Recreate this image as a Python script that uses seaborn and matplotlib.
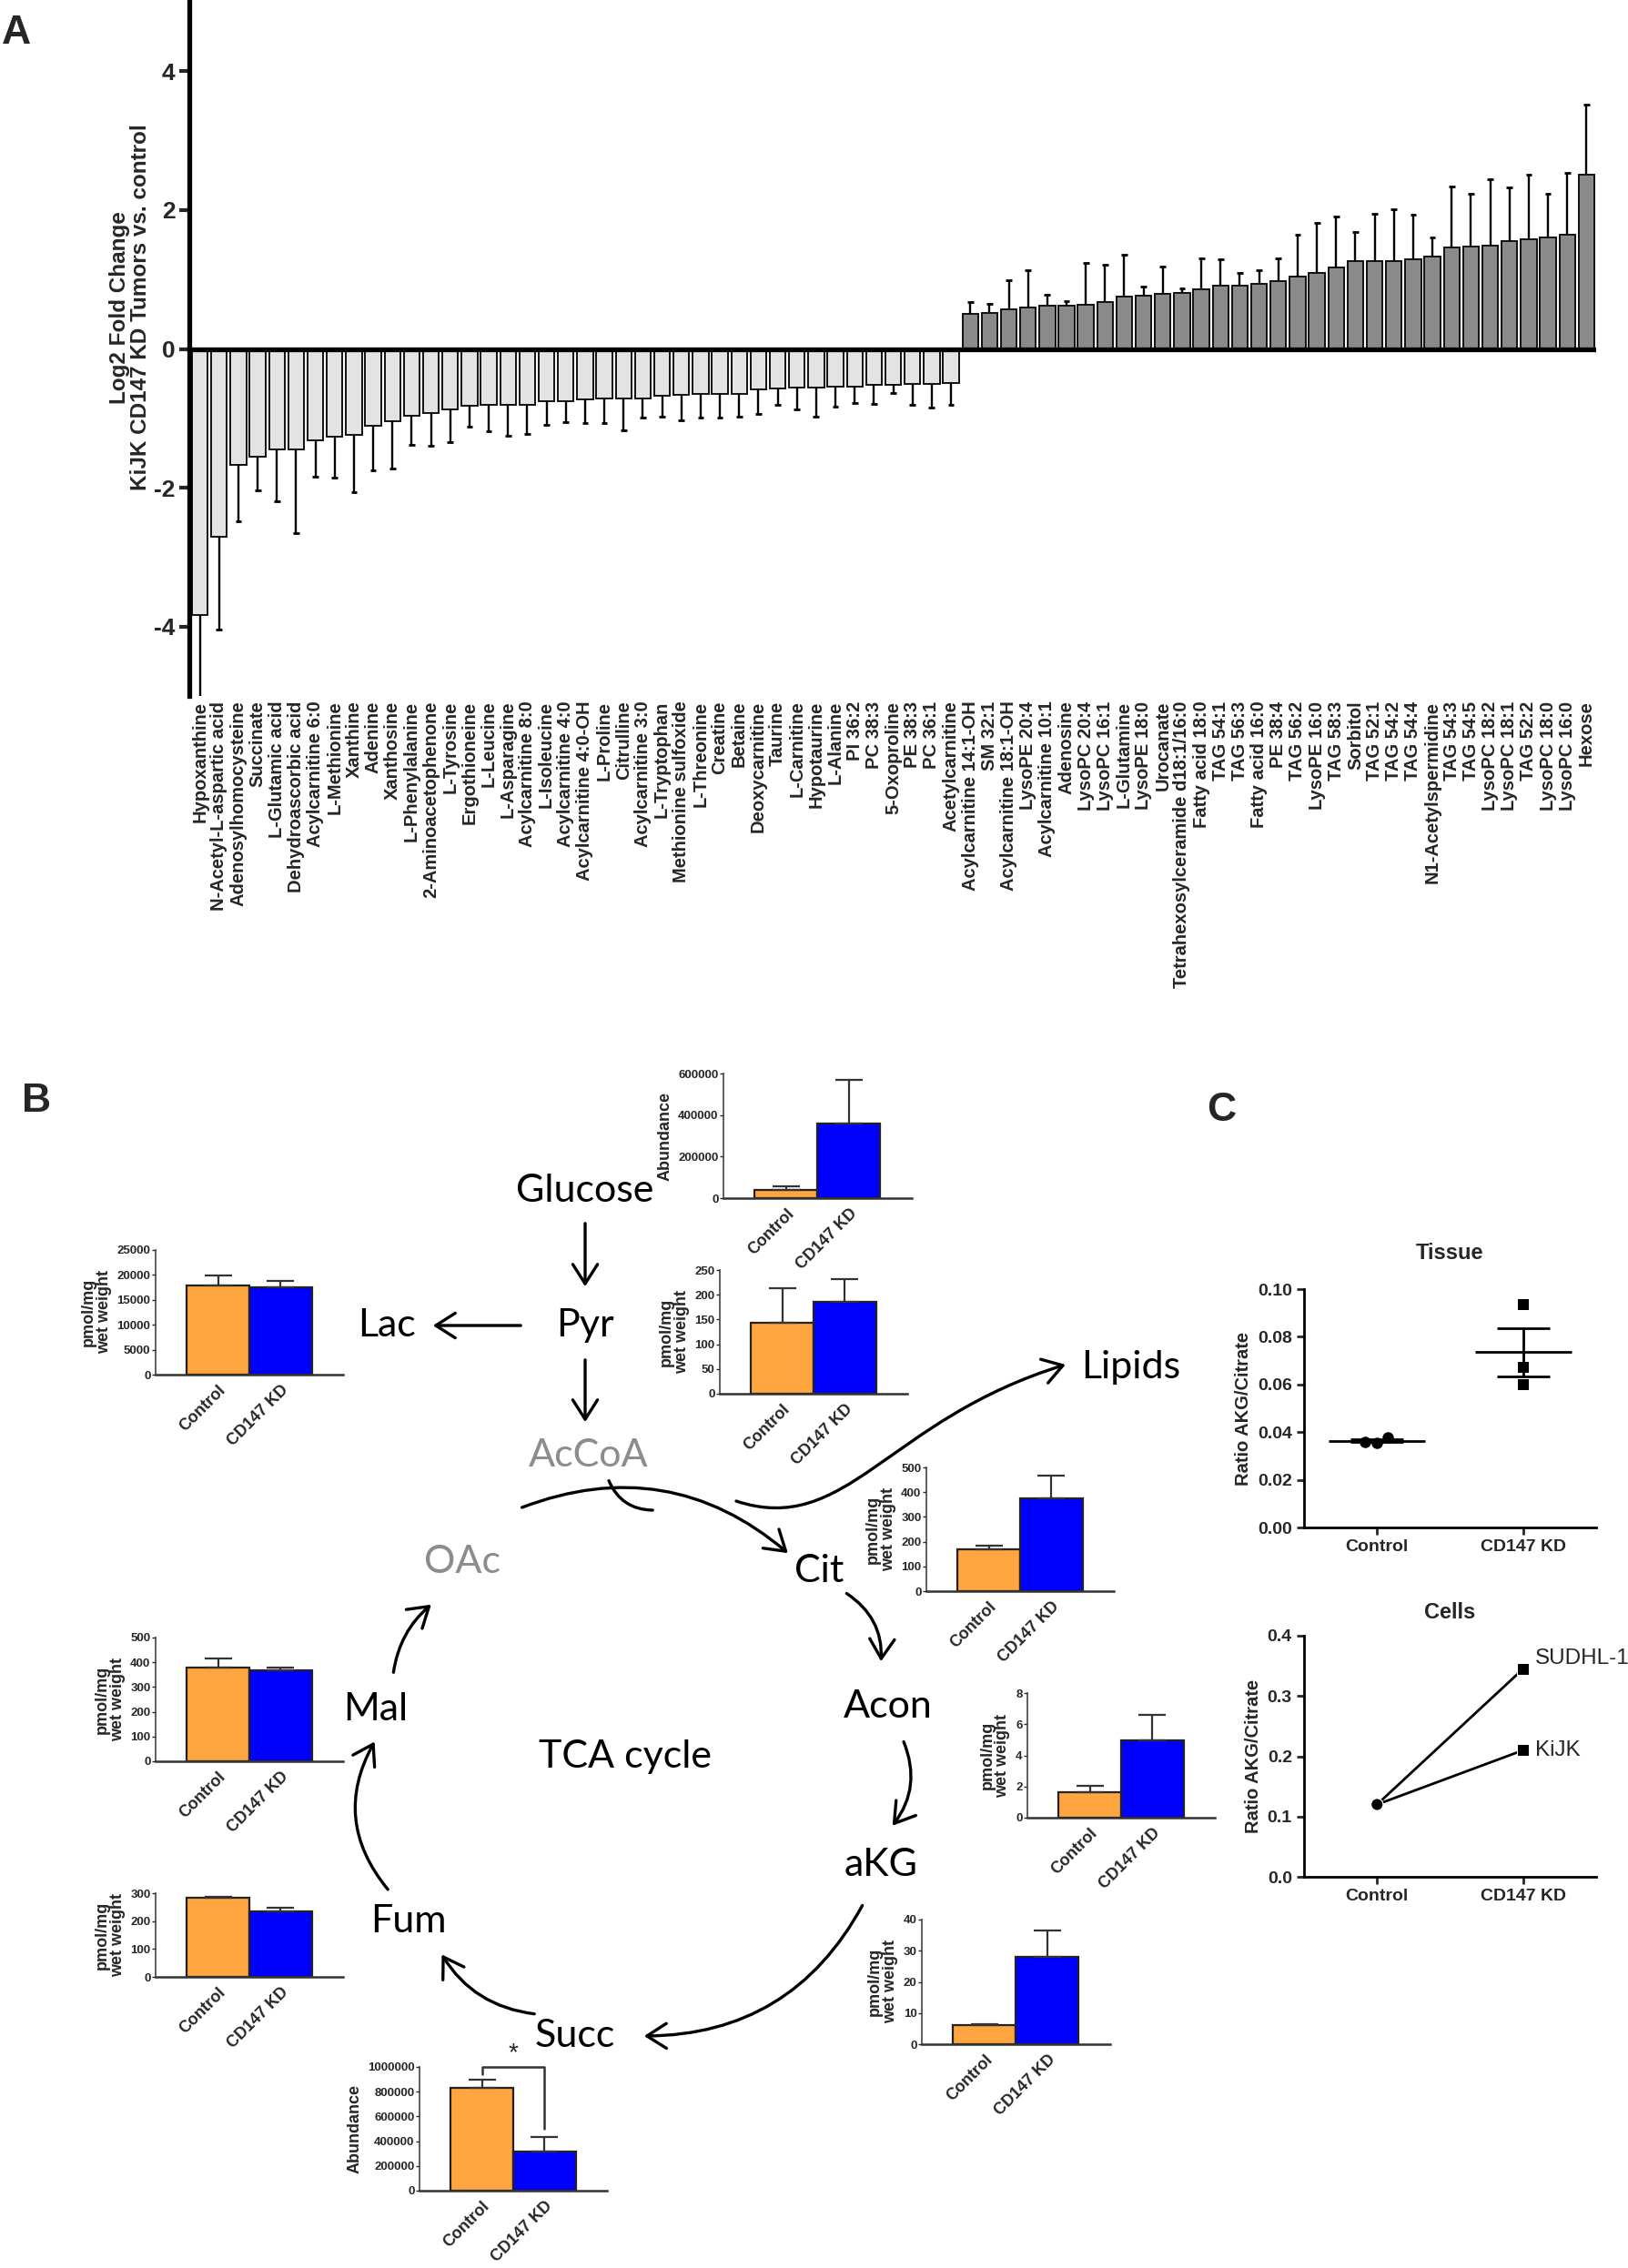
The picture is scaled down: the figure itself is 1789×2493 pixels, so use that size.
import numpy as np
import pandas as pd
import matplotlib
matplotlib.use("Agg")
import matplotlib.pyplot as plt
from matplotlib.patches import FancyArrowPatch
from matplotlib.path import Path
import seaborn as sns

sns.set_style("white")
plt.rcParams["font.family"] = ["Liberation Sans", "DejaVu Sans"]
plt.rcParams["font.weight"] = "bold"
plt.rcParams["axes.unicode_minus"] = False

W, H = 1790, 2493

# ---- panel A: log2 fold change per metabolite
metabolites = [
    "Hypoxanthine", "N-Acetyl-L-aspartic acid", "Adenosylhomocysteine", "Succinate",
    "L-Glutamic acid", "Dehydroascorbic acid", "Acylcarnitine 6:0", "L-Methionine",
    "Xanthine", "Adenine", "Xanthosine", "L-Phenylalanine", "2-Aminoacetophenone",
    "L-Tyrosine", "Ergothioneine", "L-Leucine", "L-Asparagine", "Acylcarnitine 8:0",
    "L-Isoleucine", "Acylcarnitine 4:0", "Acylcarnitine 4:0-OH", "L-Proline",
    "Citrulline", "Acylcarnitine 3:0", "L-Tryptophan", "Methionine sulfoxide",
    "L-Threonine", "Creatine", "Betaine", "Deoxycarnitine", "Taurine", "L-Carnitine",
    "Hypotaurine", "L-Alanine", "PI 36:2", "PC 38:3", "5-Oxoproline", "PE 38:3",
    "PC 36:1", "Acetylcarnitine", "Acylcarnitine 14:1-OH", "SM 32:1",
    "Acylcarnitine 18:1-OH", "LysoPE 20:4", "Acylcarnitine 10:1", "Adenosine",
    "LysoPC 20:4", "LysoPC 16:1", "L-Glutamine", "LysoPE 18:0", "Urocanate",
    "Tetrahexosylceramide d18:1/16:0", "Fatty acid 18:0", "TAG 54:1", "TAG 56:3",
    "Fatty acid 16:0", "PE 38:4", "TAG 56:2", "LysoPE 16:0", "TAG 58:3", "Sorbitol",
    "TAG 52:1", "TAG 54:2", "TAG 54:4", "N1-Acetylspermidine", "TAG 54:3", "TAG 54:5",
    "LysoPC 18:2", "LysoPC 18:1", "TAG 52:2", "LysoPC 18:0", "LysoPC 16:0", "Hexose",
]
log2fc = [
    -3.83, -2.71, -1.67, -1.55, -1.45, -1.45, -1.32, -1.26, -1.24, -1.11, -1.04, -0.96,
    -0.92, -0.87, -0.82, -0.81, -0.80, -0.80, -0.76, -0.75, -0.73, -0.72, -0.72, -0.71,
    -0.67, -0.66, -0.65, -0.65, -0.65, -0.58, -0.57, -0.56, -0.56, -0.55, -0.55, -0.52,
    -0.52, -0.51, -0.50, -0.49,
    0.51, 0.52, 0.57, 0.60, 0.62, 0.62, 0.64, 0.68, 0.75, 0.77, 0.79, 0.81, 0.86, 0.91,
    0.91, 0.94, 0.97, 1.04, 1.10, 1.17, 1.26, 1.26, 1.26, 1.29, 1.33, 1.46, 1.48, 1.49,
    1.55, 1.58, 1.61, 1.64, 2.51,
]
log2fc_sem = [
    1.35, 1.33, 0.82, 0.49, 0.74, 1.21, 0.52, 0.59, 0.83, 0.64, 0.68, 0.42, 0.48, 0.47,
    0.30, 0.37, 0.45, 0.42, 0.34, 0.31, 0.34, 0.35, 0.45, 0.28, 0.30, 0.37, 0.34, 0.34,
    0.32, 0.36, 0.23, 0.31, 0.42, 0.28, 0.23, 0.27, 0.11, 0.30, 0.35, 0.31,
    0.16, 0.13, 0.42, 0.54, 0.16, 0.07, 0.60, 0.53, 0.60, 0.13, 0.39, 0.06, 0.44, 0.38,
    0.19, 0.19, 0.33, 0.60, 0.72, 0.74, 0.42, 0.69, 0.75, 0.64, 0.27, 0.88, 0.75, 0.95,
    0.78, 0.93, 0.62, 0.90, 1.01,
]

# ---- panel B: metabolite levels, Control vs CD147 KD
groups = ["Control", "CD147 KD"]
glucose = [41000, 361000]
glucose_sem = [14600, 207000]
lac = [17900, 17560]
lac_sem = [2000, 1240]
pyr = [142.7, 184.8]
pyr_sem = [70, 46]
cit = [168, 376]
cit_sem = [17, 92]
acon = [1.66, 4.94]
acon_sem = [0.37, 1.67]
akg = [6.15, 28.1]
akg_sem = [0.3, 8.5]
succ = [834000, 317000]
succ_sem = [64000, 117000]
mal = [380, 368]
mal_sem = [35, 12]
fum = [285, 235]
fum_sem = [2, 12]

# ---- panel C: AKG / citrate ratio
tissue_control = [0.0360, 0.0378, 0.0355]
tissue_kd = [0.0935, 0.0670, 0.0600]
cell_lines = ["SUDHL-1", "KiJK"]
cells_control = [0.12, 0.12]
cells_kd = [0.345, 0.21]

fig = plt.figure(figsize=(W / 100, H / 100), dpi=100)


def add_ax(left, top, right, bottom):
    return fig.add_axes([left / W, 1 - bottom / H, (right - left) / W, (bottom - top) / H])


def P(x, y):
    return (x / W, 1 - y / H)


# ================= A
axA = add_ax(208, 2, 1754, 765)
colors = ["#E3E3E3" if v < 0 else "#8A8A8A" for v in log2fc]
sns.barplot(x=metabolites, y=log2fc, hue=metabolites, palette=colors, order=metabolites,
            hue_order=metabolites, width=0.82, saturation=1, edgecolor="#111111",
            linewidth=1.4, legend=False, ax=axA)
xs = np.arange(len(log2fc))
vals = np.array(log2fc)
sems = np.array(log2fc_sem)
ends = vals + np.sign(vals) * sems
axA.vlines(xs, vals, ends, color="black", lw=1.7, zorder=1)
axA.hlines(ends, xs - 0.16, xs + 0.16, color="black", lw=2, zorder=1)
axA.axhline(0, color="black", lw=3.8, zorder=5)
axA.set_xlim(-0.55, len(log2fc) - 0.5)
axA.set_ylim(-5, 5)
axA.set_yticks([-4, -2, 0, 2, 4])
axA.tick_params(axis="y", direction="out", length=8, width=3, labelsize=19, pad=3, left=True)
axA.tick_params(axis="x", length=0, labelsize=14.5, pad=4)
axA.set_xticks(xs)
axA.set_xticklabels(metabolites, rotation=90, fontweight="bold")
for t in axA.get_yticklabels():
    t.set_fontweight("bold")
for s in ["top", "right", "bottom"]:
    axA.spines[s].set_visible(False)
axA.spines["left"].set_linewidth(3.8)
axA.spines["left"].set_color("black")
axA.set_xlabel("")
axA.set_ylabel("Log2 Fold Change\nKiJK CD147 KD Tumors vs. control", fontsize=17.5,
               fontweight="bold", linespacing=1.0)
axA.yaxis.set_label_coords(-0.027, 0.56)


# ================= B insets
def inset(rect, values, errs, ticks, ylabel):
    ax = add_ax(*rect)
    sns.barplot(x=groups, y=values, hue=groups, palette=["#FFA640", "#0000FF"],
                order=groups, width=1.0, saturation=1, edgecolor="#222222",
                linewidth=1.6, legend=False, ax=ax)
    for i, (v, e) in enumerate(zip(values, errs)):
        ax.errorbar(i, v, yerr=[[0], [e]], color="#333333", capsize=11,
                    elinewidth=1.6, capthick=1.6, zorder=1)
    ax.set_xlim(-1, 2)
    ax.set_ylim(0, ticks[-1])
    ax.set_yticks(ticks)
    ax.set_yticklabels([f"{t:g}" if t < 1e5 else f"{int(t)}" for t in ticks],
                       fontsize=9.5, fontweight="bold")
    ax.set_xticks([0, 1])
    ax.set_xticklabels(groups, rotation=45, ha="right", rotation_mode="anchor",
                       fontsize=13, fontweight="bold")
    ax.tick_params(axis="x", length=0, pad=6)
    ax.tick_params(axis="y", length=3, width=1, pad=1, left=True)
    for s in ["top", "right"]:
        ax.spines[s].set_visible(False)
    ax.spines["left"].set_linewidth(1.2)
    ax.spines["left"].set_color("#444444")
    ax.spines["bottom"].set_linewidth(1.8)
    ax.spines["bottom"].set_color("#333333")
    ax.set_xlabel("")
    ax.set_ylabel(ylabel, fontsize=13, fontweight="bold", linespacing=1.0, labelpad=4)
    ax.patch.set_alpha(0)
    return ax


wet = "pmol/mg\nwet weight"
inset((795, 1180, 1002, 1317), glucose, glucose_sem, [0, 200000, 400000, 600000], "Abundance")
inset((171, 1374, 377, 1511), lac, lac_sem, [0, 5000, 10000, 15000, 20000, 25000], wet)
inset((791, 1396, 997, 1532), pyr, pyr_sem, [0, 50, 100, 150, 200, 250], wet)
inset((1018, 1613, 1224, 1749), cit, cit_sem, [0, 100, 200, 300, 400, 500], wet)
inset((1129, 1861, 1335, 1998), acon, acon_sem, [0, 2, 4, 6, 8], wet)
inset((1013, 2110, 1220, 2247), akg, akg_sem, [0, 10, 20, 30, 40], wet)
inset((171, 1800, 377, 1936), mal, mal_sem, [0, 100, 200, 300, 400, 500], wet)
inset((171, 2081, 377, 2173), fum, fum_sem, [0, 100, 200, 300], wet)
axS = inset((461, 2272, 667, 2408), succ, succ_sem,
            [0, 200000, 400000, 600000, 800000, 1000000], "Abundance")
axS.plot([0, 0, 1, 1], [940000, 1000000, 1000000, 500000], color="#333333", lw=1.8,
         clip_on=False)
axS.text(0.5, 1010000, "*", ha="center", va="bottom", fontsize=20, fontweight="normal",
         clip_on=False)

# pathway labels
path_font = ["Lato", "DejaVu Sans"]
labels = [
    ("Glucose", 643, 1309, "black"), ("Pyr", 643, 1457, "black"),
    ("Lac", 425, 1457, "black"), ("AcCoA", 647, 1600, "#8C8C8C"),
    ("Lipids", 1243, 1503, "black"), ("Cit", 900, 1727, "black"),
    ("OAc", 508, 1717, "#8C8C8C"), ("Acon", 976, 1876, "black"),
    ("Mal", 413, 1879, "black"), ("TCA cycle", 687, 1931, "black"),
    ("aKG", 968, 2050, "black"), ("Fum", 449, 2112, "black"),
    ("Succ", 632, 2238, "black"),
]
for txt, x, y, c in labels:
    fig.text(*P(x, y), txt, ha="center", va="center", fontsize=31, color=c,
             family=path_font, fontweight="normal")

arrow_kw = dict(arrowstyle="->,head_length=0.55,head_width=0.35", mutation_scale=28,
                lw=2.4, color="black", transform=fig.transFigure)
straight = [((643, 1342), (643, 1417)), ((575, 1457), (473, 1457)),
            ((643, 1492), (643, 1566))]
for a, b in straight:
    fig.patches.append(FancyArrowPatch(P(*a), P(*b), **arrow_kw))

curved = [((571, 1658), (868, 1709), -0.3), ((928, 1750), (968, 1829), -0.3),
          ((992, 1912), (979, 2009), -0.3), ((949, 2092), (705, 2238), -0.3),
          ((590, 2214), (484, 2146), -0.25), ((428, 2079), (413, 1912), -0.35),
          ((432, 1841), (476, 1762), -0.2)]
for a, b, r in curved:
    fig.patches.append(FancyArrowPatch(P(*a), P(*b), connectionstyle=f"arc3,rad={r}",
                                       **arrow_kw))
# AcCoA joining the cycle
fig.patches.append(FancyArrowPatch(P(668, 1625), P(720, 1660), connectionstyle="arc3,rad=0.35",
                                   arrowstyle="-", lw=2.4, color="black",
                                   transform=fig.transFigure))
# towards lipids
lip = Path([P(809, 1650), P(930, 1690), P(975, 1560), P(1171, 1500)],
           [Path.MOVETO, Path.CURVE4, Path.CURVE4, Path.CURVE4])
fig.patches.append(FancyArrowPatch(path=lip, **arrow_kw))

# ================= C
axT = add_ax(1433, 1417, 1754, 1679)
tissue = pd.DataFrame({"group": ["Control"] * len(tissue_control) + ["CD147 KD"] * len(tissue_kd),
                       "ratio": tissue_control + tissue_kd})
for g, m in zip(groups, ["o", "s"]):
    sns.swarmplot(data=tissue[tissue.group == g], x="group", y="ratio", order=groups,
                  marker=m, color="black", size=9, ax=axT)
for i, g in enumerate(groups):
    r = tissue.loc[tissue.group == g, "ratio"].to_numpy()
    mu = r.mean()
    se = r.std(ddof=1) / np.sqrt(len(r))
    axT.hlines(mu, i - 0.33, i + 0.33, color="black", lw=2)
    axT.vlines(i, mu - se, mu + se, color="black", lw=2)
    axT.hlines([mu - se, mu + se], i - 0.18, i + 0.18, color="black", lw=2)
axT.set_xlim(-0.5, 1.5)
axT.set_ylim(0, 0.10)
axT.set_yticks([0, 0.02, 0.04, 0.06, 0.08, 0.10])
axT.set_yticklabels(["0.00", "0.02", "0.04", "0.06", "0.08", "0.10"])
axT.set_title("Tissue", fontsize=17, fontweight="bold", pad=24)
axT.set_ylabel("Ratio AKG/Citrate", fontsize=14.5, fontweight="bold")
axT.set_xlabel("")

axC = add_ax(1433, 1798, 1754, 2063)
cells = pd.DataFrame({"line": cell_lines * 2,
                      "group": ["Control"] * 2 + ["CD147 KD"] * 2,
                      "ratio": cells_control + cells_kd})
sns.lineplot(data=cells, x="group", y="ratio", units="line", estimator=None,
             color="black", lw=2, ax=axC)
sns.scatterplot(data=cells, x="group", y="ratio", style="group",
                markers={"Control": "o", "CD147 KD": "s"}, color="black", s=90,
                legend=False, ax=axC, zorder=5)
for name, v in zip(cell_lines, cells_kd):
    axC.text(1.08, v, name, fontsize=17.5, fontweight="normal",
             va="bottom" if v > 0.3 else "center")
axC.set_xlim(-0.5, 1.5)
axC.set_ylim(0, 0.4)
axC.set_yticks([0, 0.1, 0.2, 0.3, 0.4])
axC.set_yticklabels(["0.0", "0.1", "0.2", "0.3", "0.4"])
axC.set_title("Cells", fontsize=17, fontweight="bold", pad=14)
axC.set_ylabel("Ratio AKG/Citrate", fontsize=14.5, fontweight="bold")
axC.set_xlabel("")

for ax in (axT, axC):
    for s in ["top", "right"]:
        ax.spines[s].set_visible(False)
    for s in ["left", "bottom"]:
        ax.spines[s].set_linewidth(2)
        ax.spines[s].set_color("black")
    ax.tick_params(direction="out", length=6, width=2, labelsize=14, left=True, bottom=True)
    for t in ax.get_xticklabels() + ax.get_yticklabels():
        t.set_fontweight("bold")

# panel letters
for letter, x, y in [("A", 18, 36), ("B", 40, 1210), ("C", 1342, 1220)]:
    fig.text(*P(x, y), letter, fontsize=32, fontweight="bold", ha="center", va="center")

fig.savefig("out.png", dpi=100)
